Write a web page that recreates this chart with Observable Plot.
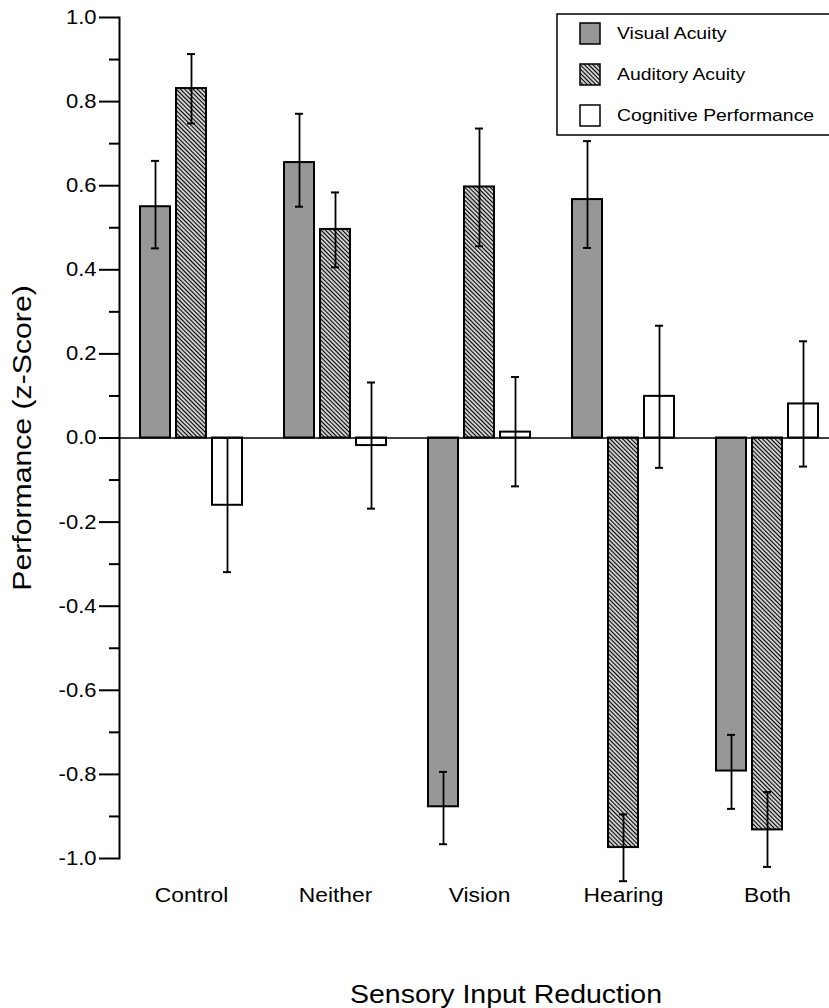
<!DOCTYPE html>
<html>
<head>
<meta charset="utf-8">
<script src="https://cdn.jsdelivr.net/npm/d3@7"></script>
<script src="https://cdn.jsdelivr.net/npm/@observablehq/plot@0.6"></script>
<style>
  html, body { margin: 0; padding: 0; background: #fff; }
  #chart { position: relative; width: 829px; height: 1008px; overflow: hidden; }
</style>
</head>
<body>
<div id="chart"></div>
<script>
// ---- data ----
const categories = ["Control", "Neither", "Vision", "Hearing", "Both"];
const seriesNames = ["Visual Acuity", "Auditory Acuity", "Cognitive Performance"];

const visual     = [0.550, 0.655, -0.877, 0.567, -0.792];
const visualLo   = [0.451, 0.550, -0.966, 0.452, -0.882];
const visualHi   = [0.659, 0.771, -0.794, 0.706, -0.706];

const auditory   = [0.831, 0.496, 0.597, -0.974, -0.932];
const auditoryLo = [0.748, 0.406, 0.456, -1.054, -1.020];
const auditoryHi = [0.913, 0.584, 0.736, -0.895, -0.842];

const cognitive   = [-0.160, -0.018, 0.014, 0.099, 0.081];
const cognitiveLo = [-0.319, -0.168, -0.115, -0.071, -0.068];
const cognitiveHi = [0.000, 0.132, 0.145, 0.267, 0.230];

const majorTicks = [-1.0, -0.8, -0.6, -0.4, -0.2, 0.0, 0.2, 0.4, 0.6, 0.8, 1.0];
const minorTicks = [-0.9, -0.7, -0.5, -0.3, -0.1, 0.1, 0.3, 0.5, 0.7, 0.9];

const yTitle = "Performance (z-Score)";
const xTitle = "Sensory Input Reduction";

// ---- table built from the arrays ----
const seriesData = [
  [visual, visualLo, visualHi],
  [auditory, auditoryLo, auditoryHi],
  [cognitive, cognitiveLo, cognitiveHi]
];
const rows = [];
categories.forEach((c, i) => {
  seriesNames.forEach((s, j) => {
    rows.push({cat: c, series: s, value: seriesData[j][0][i], lo: seriesData[j][1][i], hi: seriesData[j][2][i]});
  });
});

const fills = {
  "Visual Acuity": "#979797",
  "Auditory Acuity": "url(#hatch)",
  "Cognitive Performance": "#ffffff"
};

const FONT = "'Liberation Sans', Arial, Helvetica, sans-serif";

const chart = Plot.plot({
  width: 829,
  height: 1008,
  marginLeft: 119,
  marginRight: -10,
  marginTop: 17,
  marginBottom: 150,
  style: {fontFamily: FONT, fontSize: "20px", background: "white", color: "black", overflow: "visible"},
  fx: {domain: categories, paddingInner: 0, paddingOuter: 0},
  x: {domain: seriesNames, paddingInner: 0.178, paddingOuter: 0.575, axis: null},
  y: {domain: [-1, 1]},
  marks: [
    Plot.barY(rows, {fx: "cat", x: "series", y: "value", fill: d => fills[d.series], stroke: "black", strokeWidth: 2}),
    Plot.ruleY([0], {stroke: "black", strokeWidth: 1.6}),
    Plot.ruleX(rows, {fx: "cat", x: "series", y1: "lo", y2: "hi", stroke: "black", strokeWidth: 1.8}),
    Plot.tickY(rows, {fx: "cat", x: "series", y: "lo", stroke: "black", strokeWidth: 2, insetLeft: 11, insetRight: 11}),
    Plot.tickY(rows, {fx: "cat", x: "series", y: "hi", stroke: "black", strokeWidth: 2, insetLeft: 11, insetRight: 11}),
    Plot.frame({anchor: "left", facetAnchor: "left", stroke: "black", strokeWidth: 2}),
    Plot.axisY({ticks: minorTicks, tickSize: 10, tickFormat: () => "", strokeWidth: 2, label: null}),
    Plot.axisY({ticks: majorTicks, tickSize: 20, tickPadding: 3, strokeWidth: 2, tickFormat: d => d.toFixed(1),
      label: yTitle, labelArrow: false, labelAnchor: "center", labelOffset: 107, fontSize: 20}),
    Plot.axisFx({anchor: "bottom", tickSize: 0, tickPadding: 29, fontSize: 20, label: null})
  ]
});

document.getElementById("chart").appendChild(chart);

const svg = d3.select(chart);

// hatch pattern for Auditory Acuity
const defs = svg.insert("defs", ":first-child");
const pat = defs.append("pattern")
  .attr("id", "hatch")
  .attr("patternUnits", "userSpaceOnUse")
  .attr("width", 3).attr("height", 3)
  .attr("patternTransform", "rotate(45)");
pat.append("rect").attr("width", 3).attr("height", 3).attr("fill", "white");
pat.append("line").attr("x1", 0).attr("y1", 1.5).attr("x2", 3).attr("y2", 1.5)
  .attr("stroke", "black").attr("stroke-width", 1.4);

// y title: plain text, larger
svg.selectAll("text").filter(function() { return this.textContent.indexOf("Performance (z") === 0; })
  .text(yTitle)
  .style("font-size", "26.5px");

// x title
svg.append("text")
  .attr("x", 506).attr("y", 1003)
  .attr("text-anchor", "middle")
  .style("font-family", FONT).style("font-size", "25px")
  .text(xTitle);

// legend
const lg = svg.append("g").style("font-family", FONT).style("font-size", "17px");
lg.append("rect").attr("x", 557).attr("y", 14).attr("width", 290).attr("height", 121)
  .attr("fill", "white").attr("stroke", "black").attr("stroke-width", 1.5);
seriesNames.forEach((s, i) => {
  const y = 23 + i * 41;
  lg.append("rect").attr("x", 580).attr("y", y).attr("width", 20).attr("height", 21)
    .attr("fill", fills[s]).attr("stroke", "black").attr("stroke-width", 1.5);
  lg.append("text").attr("x", 617).attr("y", y + 16).attr("text-anchor", "start").text(s);
});

// the reference typeface is set a little wider than Arial: widen glyphs horizontally
svg.selectAll("text").each(function() {
  const t = this.textContent;
  if (!t) return;
  const isTick = /^-?\d\.\d$/.test(t);
  const f = isTick ? 1.1 : 1.14;
  const len = this.getComputedTextLength();
  if (len > 0) {
    this.setAttribute("textLength", (len * f).toFixed(1));
    this.setAttribute("lengthAdjust", "spacingAndGlyphs");
  }
});
</script>
</body>
</html>
